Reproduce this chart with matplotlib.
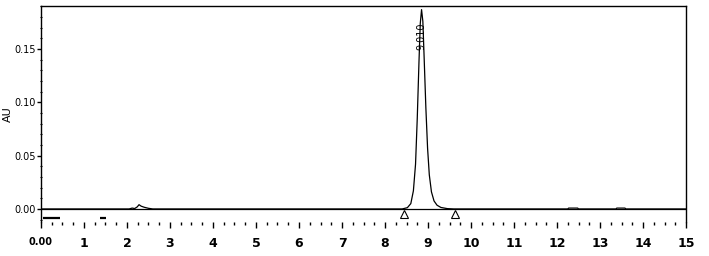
import numpy as np
import matplotlib.pyplot as plt
from matplotlib.ticker import MultipleLocator

# chromatogram trace (minutes, AU)
rt = [0.00, 2.05, 2.12, 2.18, 2.24, 2.28, 2.33, 2.40, 2.50, 2.60,
      8.40, 8.52, 8.60, 8.66, 8.71, 8.75, 8.79, 8.82, 8.85, 8.88,
      8.91, 8.95, 8.99, 9.03, 9.08, 9.14, 9.21, 9.30, 9.45, 9.60,
      12.25, 12.27, 12.48, 12.50, 13.37, 13.39, 13.58, 13.60, 15.00]
au = [0.0000, 0.0000, 0.0008, 0.0004, 0.0020, 0.0040, 0.0026, 0.0016, 0.0006, 0.0000,
      0.0000, 0.0012, 0.0050, 0.0170, 0.0420, 0.0850, 0.1380, 0.1740, 0.1870, 0.1760,
      0.1420, 0.0950, 0.0570, 0.0320, 0.0160, 0.0075, 0.0035, 0.0014, 0.0003, 0.0000,
      0.0000, 0.0008, 0.0008, 0.0000, 0.0000, 0.0008, 0.0008, 0.0000, 0.0000]

peak_rt = [8.85]
peak_au = [0.187]
peak_labels = ['9.010']

# integration start / end marks
base_marks = [8.45, 9.62]

# short event bars under the baseline
event_start = [0.05, 1.38]
event_end = [0.45, 1.52]

x_ticks = list(range(0, 16))
x_labels = ['0.00'] + [str(i) for i in range(1, 16)]
y_ticks = [0.00, 0.05, 0.10, 0.15]

fig = plt.figure(figsize=(7.09, 2.56), dpi=100)
ax = fig.add_axes([0.0578, 0.133, 0.9098, 0.8436])

ax.plot(rt, au, color='black', lw=0.9)
ax.axhline(0, color='black', lw=0.9)

for s, e in zip(event_start, event_end):
    ax.plot([s, e], [-0.0085, -0.0085], color='black', lw=1.6, solid_capstyle='butt')

ax.plot(base_marks, [-0.0050] * len(base_marks), linestyle='none', marker='^',
        markersize=6, markerfacecolor='white', markeredgecolor='black', markeredgewidth=0.8)

for x, y, t in zip(peak_rt, peak_au, peak_labels):
    ax.text(x, y - 0.012, t, rotation=90, ha='center', va='top', fontsize=7)

ax.set_xlim(0, 15)
ax.set_ylim(-0.0122, 0.1904)

ax.set_xticks(x_ticks)
ax.set_xticklabels(x_labels, fontsize=9, fontweight='bold')
ax.get_xticklabels()[0].set_fontsize(7)
ax.xaxis.set_minor_locator(MultipleLocator(0.25))
ax.set_yticks(y_ticks)
ax.set_yticklabels(['%.2f' % v for v in y_ticks], fontsize=7)
ax.yaxis.set_minor_locator(MultipleLocator(0.01))

ax.tick_params(axis='x', which='major', direction='out', length=4, width=1, pad=7)
ax.tick_params(axis='x', which='minor', direction='out', length=2.5, width=1)
ax.tick_params(axis='y', which='major', direction='out', length=3, width=1, pad=1)
ax.tick_params(axis='y', which='minor', direction='inout', length=2, width=0.8)

ax.spines['bottom'].set_visible(False)
for s in ['left', 'right', 'top']:
    ax.spines[s].set_linewidth(1.0)

ax.set_ylabel('AU', fontsize=8, labelpad=1)

plt.savefig('out.png', dpi=100)
